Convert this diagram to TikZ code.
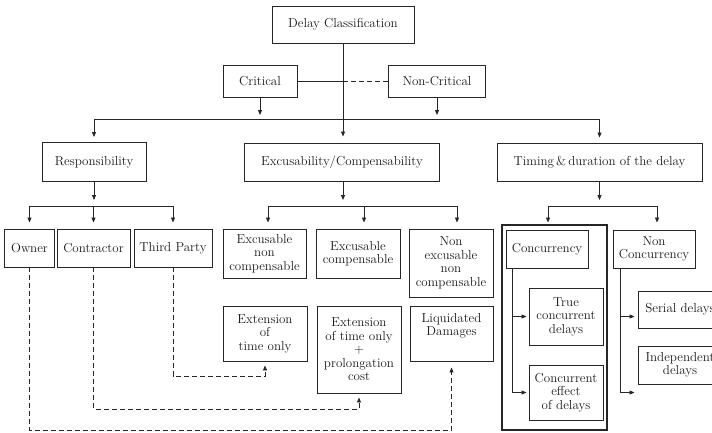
\documentclass[tikz,border=0pt]{standalone}
\usetikzlibrary{arrows.meta}
\begin{document}
\begin{tikzpicture}[x=1pt,y=-1pt,
  box/.style={draw=black!85, line width=0.9pt, align=center, inner sep=0pt,
    font=\fontsize{13}{13.5}\selectfont, text=black!90},
  grpbox/.style={draw=black!85, line width=2.2pt, inner sep=0pt},
  conn/.style={draw=black!85, line width=0.8pt},
  tip/.style={-{Triangle[length=5pt,width=4pt]}},
  arr/.style={conn, tip},
  dsh/.style={conn, dash pattern=on 5pt off 3pt},
]
\useasboundingbox (0,0) rectangle (712,432);
\clip (0,0) rectangle (712,432);

% nodes
\node[box,minimum width=142,minimum height=37] (dc) at (343,24.5) {Delay Classification};
\node[box,minimum width=74,minimum height=32] (crit) at (260,81) {Critical};
\node[box,minimum width=97,minimum height=32] (ncrit) at (437,81) {Non-Critical};

\node[box,minimum width=104,minimum height=39] (resp) at (94,162) {Responsibility};
\node[box,minimum width=195,minimum height=38] (exc) at (342,162) {Excusability/Compensability};
\node[box,minimum width=205,minimum height=38] (tim) at (599.5,162) {Timing\,\&\,duration of the delay};

\node[box,minimum width=50,minimum height=38] (owner) at (29.5,248) {Owner};
\node[box,minimum width=73,minimum height=38] (contr) at (93.5,248) {Contractor};
\node[box,minimum width=78,minimum height=38] (third) at (173,248) {Third Party};

\node[box,minimum width=83,minimum height=49] (enc) at (264.5,253.5) {Excusable\\non\\compensable};
\node[box,minimum width=84,minimum height=49] (ec) at (358,253.5) {Excusable\\compensable};
\node[box,minimum width=84,minimum height=68] (nenc) at (451,263) {Non\\excusable\\non\\compensable};

\node[box,minimum width=84,minimum height=55] (eto) at (265,333.5) {Extension\\of\\time only};
\node[box,minimum width=84,minimum height=87] (etp) at (359,349.5) {Extension\\of time only\\+\\prolongation\\cost};
\node[box,minimum width=83,minimum height=55] (ld) at (451.5,333.5) {Liquidated\\Damages\\\strut};

\node[grpbox,minimum width=105,minimum height=205] (grp) at (554.5,327.5) {};
\node[box,minimum width=82,minimum height=38] (conc) at (547,249) {Concurrency};
\node[box,minimum width=82,minimum height=38] (nconc) at (654,249) {Non\\Concurrency};
\node[box,minimum width=74,minimum height=57] (true) at (566,316.5) {True\\concurrent\\delays};
\node[box,minimum width=74,minimum height=55] (cee) at (566,392.5) {Concurrent\\effect\\of delays};
\node[box,minimum width=84,minimum height=37] (serial) at (680,309.5) {Serial delays};
\node[box,minimum width=84,minimum height=38] (indep) at (680,365) {Independent\\delays};

% top level
\draw[arr, shorten >=6pt] (dc.south) -- (dc.south |- exc.north);
\draw[conn] (crit.east) -- (dc.south |- crit.east);
\draw[dsh] (dc.south |- crit.east) -- (ncrit.west);
\draw[arr] (crit.south) -- (crit.south |- 0,115);
\draw[arr] (ncrit.south) -- (ncrit.south |- 0,115);
\draw[conn] (resp.north |- 0,119) -- (tim.north |- 0,119);
\draw[arr, shorten >=5pt] (resp.north |- 0,119) -- (resp.north);
\draw[arr, shorten >=5pt] (tim.north |- 0,119) -- (tim.north);

% responsibility
\draw[arr, shorten >=6pt] (resp.south) -- (resp.south |- 0,206);
\draw[conn] (owner.north |- 0,206) -- (third.north |- 0,206);
\draw[arr, shorten >=6pt] (owner.north |- 0,206) -- (owner.north);
\draw[arr, shorten >=6pt] (contr.north |- 0,206) -- (contr.north);
\draw[arr, shorten >=6pt] (third.north |- 0,206) -- (third.north);

% excusability
\draw[arr, shorten >=6pt] ([xshift=1pt]exc.south) -- ([xshift=1pt]exc.south |- 0,206);
\draw[conn] ([xshift=3.5pt]enc.north |- 0,206) -- ([xshift=6pt]nenc.north |- 0,206);
\draw[arr, shorten >=6pt] ([xshift=3.5pt]enc.north |- 0,206) -- ([xshift=3.5pt]enc.north);
\draw[arr, shorten >=6pt] ([xshift=6pt]ec.north |- 0,206) -- ([xshift=6pt]ec.north);
\draw[arr, shorten >=6pt] ([xshift=6pt]nenc.north |- 0,206) -- ([xshift=6pt]nenc.north);

% timing
\draw[arr, shorten >=6pt] (tim.south) -- (tim.south |- 0,206);
\draw[conn] ([xshift=1pt]conc.north |- 0,206) -- ([xshift=3pt]nconc.north |- 0,206);
\draw[arr, shorten >=7pt] ([xshift=1pt]conc.north |- 0,206) -- ([xshift=1pt]conc.north);
\draw[arr, shorten >=7pt] ([xshift=3pt]nconc.north |- 0,206) -- ([xshift=3pt]nconc.north);

% concurrency branches
\draw[arr, shorten >=2pt] ([xshift=7pt]conc.south west) |- (cee.west);
\draw[arr, shorten >=2pt] ([xshift=7pt]conc.south west |- true.west) -- (true.west);
\draw[arr] ([xshift=8pt]nconc.south west) |- ([xshift=-3pt]serial.west |- cee.west);
\draw[arr] ([xshift=8pt]nconc.south west |- true.west) -- ([xshift=-3pt]serial.west |- true.west);

% dashed responsibility links
\draw[dsh, tip, shorten >=4pt] (third.south) -- (third.south |- 0,376) -| (eto.south);
\draw[dsh, tip, shorten >=4pt] (contr.south) -- (contr.south |- 0,409) -| (etp.south);
\draw[dsh, tip, shorten >=6pt] (owner.south) -- (owner.south |- 0,430) -| (ld.south);
\end{tikzpicture}
\end{document}
